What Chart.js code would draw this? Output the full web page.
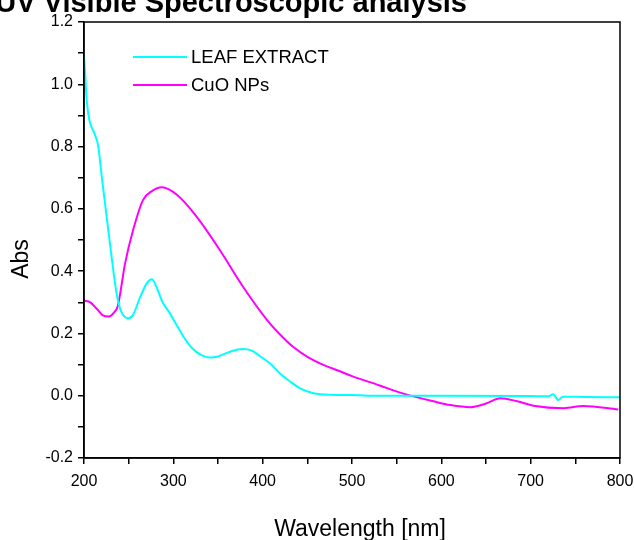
<!DOCTYPE html>
<html>
<head>
<meta charset="utf-8">
<script src="https://cdn.jsdelivr.net/npm/chart.js@4.4.1/dist/chart.umd.min.js"></script>
<style>
  html, body { margin: 0; padding: 0; background: #fff; }
  #wrap { width: 634px; height: 540px; position: relative; }
</style>
</head>
<body>
<div id="wrap"><canvas id="uv-chart"></canvas></div>
<script>
// wavelength (nm) and absorbance
var leafNm  = [200, 201, 203, 206, 212, 216, 220, 226, 232, 237, 241, 246, 250, 255, 262, 270, 276, 281, 288, 295, 307, 316, 326, 334, 341, 350, 365, 377, 388, 398, 408, 420, 431, 443, 457, 475, 500, 531, 600, 700, 720, 725, 731, 736, 760, 800];
var leafAbs = [1.09, 1.05, 0.95, 0.885, 0.84, 0.80, 0.70, 0.56, 0.42, 0.32, 0.275, 0.252, 0.249, 0.26, 0.31, 0.36, 0.374, 0.35, 0.30, 0.27, 0.21, 0.17, 0.14, 0.127, 0.123, 0.126, 0.143, 0.15, 0.145, 0.125, 0.104, 0.07, 0.045, 0.022, 0.008, 0.003, 0.002, 0.0, 0.0, -0.001, -0.002, 0.005, -0.014, -0.003, -0.004, -0.005];

var cuoNm  = [200, 207, 214, 221, 228, 233, 238, 246, 255, 266, 276, 287, 304, 326, 352, 378, 405, 420, 434, 450, 468, 485, 500, 531, 555, 570, 591, 610, 632, 650, 666, 685, 703, 737, 759, 798];
var cuoAbs = [0.305, 0.30, 0.28, 0.258, 0.254, 0.265, 0.29, 0.425, 0.532, 0.628, 0.657, 0.669, 0.645, 0.575, 0.468, 0.35, 0.243, 0.195, 0.157, 0.125, 0.099, 0.08, 0.063, 0.033, 0.009, -0.003, -0.018, -0.03, -0.037, -0.025, -0.008, -0.018, -0.032, -0.04, -0.033, -0.044];

var seriesNames = ["LEAF EXTRACT", "CuO NPs"];
var seriesColors = ['rgb(0, 255, 255)', 'rgb(255, 0, 255)'];
var xTicks = [200, 300, 400, 500, 600, 700, 800];
var yTicks = [-0.2, 0.0, 0.2, 0.4, 0.6, 0.8, 1.0, 1.2];

function toPoints(xs, ys) {
    return xs.map(function(x, i) { return { x: x, y: ys[i] }; });
}

var FONT = "'Liberation Sans', Arial, sans-serif";

// frame, legend, axis titles and the (cut off) heading
var extras = {
    id: 'extras',
    afterDraw: function(chart) {
        var ctx = chart.ctx;
        var a = chart.chartArea;
        ctx.save();
        ctx.strokeStyle = '#000';
        ctx.lineWidth = 1.5;
        ctx.strokeRect(a.left, a.top, a.right - a.left, a.bottom - a.top);

        // legend
        ctx.font = '18.5px ' + FONT;
        ctx.textBaseline = 'middle';
        chart.data.datasets.forEach(function(ds, i) {
            var y = a.top + 35 + i * 28;
            ctx.strokeStyle = ds.borderColor;
            ctx.lineWidth = 2;
            ctx.beginPath();
            ctx.moveTo(a.left + 49, y);
            ctx.lineTo(a.left + 103, y);
            ctx.stroke();
            ctx.fillStyle = '#000';
            ctx.fillText(ds.label, a.left + 107, y + 1);
        });

        // axis titles
        ctx.fillStyle = '#000';
        ctx.font = '23px ' + FONT;
        ctx.textAlign = 'center';
        ctx.textBaseline = 'alphabetic';
        ctx.fillText('Wavelength [nm]', 360, 536);
        ctx.save();
        ctx.translate(28, 259);
        ctx.rotate(-Math.PI / 2);
        ctx.fillText('Abs', 0, 0);
        ctx.restore();

        // heading
        ctx.font = 'bold 29px ' + FONT;
        ctx.textAlign = 'right';
        ctx.fillText('UV Visible Spectroscopic analysis', 467, 12);
        ctx.restore();
    }
};

var ctx = document.getElementById('uv-chart').getContext('2d');

var chart = new Chart(ctx, {
    type: 'line',
    data: {
        datasets: [{
            label: seriesNames[0],
            data: toPoints(leafNm, leafAbs),
            borderColor: seriesColors[0],
            backgroundColor: seriesColors[0],
            borderWidth: 2,
            pointRadius: 0,
            cubicInterpolationMode: 'monotone'
        }, {
            label: seriesNames[1],
            data: toPoints(cuoNm, cuoAbs),
            borderColor: seriesColors[1],
            backgroundColor: seriesColors[1],
            borderWidth: 2,
            pointRadius: 0,
            cubicInterpolationMode: 'monotone'
        }]
    },
    options: {
        responsive: true,
        maintainAspectRatio: false,
        animation: false,
        layout: { padding: { top: 22, right: 0, left: 0, bottom: 0 } },
        plugins: {
            legend: { display: false },
            tooltip: { enabled: false }
        },
        scales: {
            x: {
                type: 'linear',
                min: 200,
                max: 800,
                afterFit: function(scale) {
                    scale.height = 82;
                    scale.paddingRight = 14;
                    scale.paddingLeft = 0;
                },
                ticks: {
                    stepSize: 50,
                    autoSkip: false,
                    maxRotation: 0,
                    padding: 8,
                    color: '#000',
                    font: { family: FONT, size: 16 },
                    callback: function(v) { return xTicks.indexOf(v) >= 0 ? String(v) : ''; }
                },
                grid: {
                    drawOnChartArea: false,
                    drawTicks: true,
                    tickLength: 6,
                    color: '#000',
                    lineWidth: 1.5
                },
                border: { color: '#000', width: 1.5 }
            },
            y: {
                min: -0.2,
                max: 1.2,
                afterFit: function(scale) { scale.width = 84; },
                ticks: {
                    stepSize: 0.1,
                    autoSkip: false,
                    padding: 5,
                    color: '#000',
                    font: { family: FONT, size: 16 },
                    callback: function(v) {
                        var r = Math.round(v * 10) / 10;
                        return yTicks.some(function(t) { return Math.abs(t - r) < 1e-6; }) ? r.toFixed(1) : '';
                    }
                },
                grid: {
                    drawOnChartArea: false,
                    drawTicks: true,
                    tickLength: 6,
                    color: '#000',
                    lineWidth: 1.5
                },
                border: { color: '#000', width: 1.5 }
            }
        }
    },
    plugins: [extras]
});
</script>
</body>
</html>
